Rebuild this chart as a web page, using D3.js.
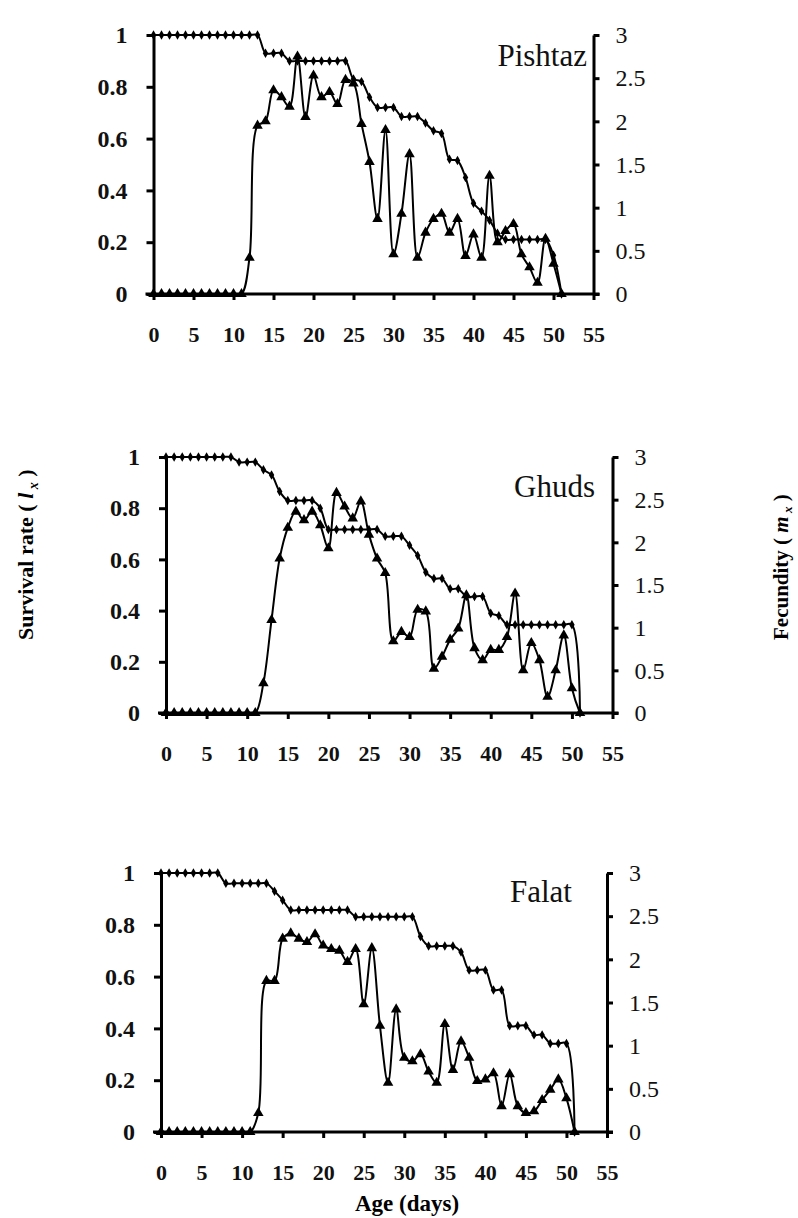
<!DOCTYPE html>
<html>
<head>
<meta charset="utf-8">
<script src="https://cdn.jsdelivr.net/npm/d3@7/dist/d3.min.js"></script>
<style>
  body { margin: 0; background: #fff; }
  .tick line { stroke: #000; stroke-width: 3px; }
  .domain { stroke: #000; stroke-width: 3px; }
</style>
</head>
<body>
<div id="chart"></div>
<script>
const width = 798;
const height = 1218;

// age in days, one value per day
const days = d3.range(0, 52);
const xTicks = d3.range(0, 60, 5);
const lxTicks = [0, 0.2, 0.4, 0.6, 0.8, 1];
const mxTicks = [0, 0.5, 1, 1.5, 2, 2.5, 3];

const varieties = ["Pishtaz", "Ghuds", "Falat"];

// survival rate lx
const pishtazLx = [1,1,1,1,1,1,1,1,1,1,1,1,1,1, 0.93,0.93,0.93,
  0.9,0.9,0.9,0.9,0.9,0.9,0.9,0.9, 0.83,0.82,0.76, 0.72,0.72,0.72,
  0.685,0.685,0.685, 0.66,0.63,0.62,0.52,0.515,0.45,0.35,0.32,0.285,0.235,
  0.21,0.21,0.21,0.21,0.21,0.21, 0.15,0];
const ghudsLx = [1,1,1,1,1,1,1,1,1, 0.98,0.98,0.98, 0.95,0.93,0.865,
  0.83,0.83,0.83,0.83, 0.8, 0.717,0.717,0.717,0.717,0.717,0.717,0.717,
  0.69,0.69,0.69, 0.655,0.615,0.55, 0.525,0.525, 0.485,0.485, 0.455,0.455,0.455,
  0.39,0.38, 0.345,0.345,0.345,0.345,0.345,0.345,0.345,0.345,0.345, 0];
const falatLx = [1,1,1,1,1,1,1,1, 0.96,0.96,0.96,0.96,0.96,0.96, 0.93,0.895,
  0.857,0.857,0.857,0.857,0.857,0.857,0.857,0.857,
  0.831,0.831,0.831,0.831,0.831,0.831,0.831,0.831,
  0.755, 0.718,0.718,0.718,0.718, 0.695, 0.625,0.625,0.625, 0.548,0.548,
  0.41,0.41,0.41, 0.375,0.375, 0.342,0.342,0.342, 0];

// fecundity mx
const pishtazMx = [0,0,0,0,0,0,0,0,0,0,0,0, 0.42,1.95,2.0,2.36,2.28,2.17,2.75,
  2.05,2.53,2.28,2.34,2.2,2.48,2.44,1.97,1.53,0.87,1.9,0.46,0.93,1.62,0.42,
  0.71,0.87,0.93,0.71,0.87,0.44,0.69,0.42,1.37,0.6,0.73,0.81,0.46,0.31,0.13,
  0.64,0.35,0];
const ghudsMx = [0,0,0,0,0,0,0,0,0,0,0,0, 0.35,1.09,1.81,2.17,2.36,2.26,2.36,
  2.2,1.93,2.58,2.42,2.28,2.48,2.09,1.81,1.64,0.84,0.95,0.89,1.21,1.19,0.52,
  0.66,0.86,0.99,1.38,0.76,0.62,0.74,0.74,0.89,1.4,0.5,0.82,0.62,0.19,0.5,
  0.91,0.29,0];
const falatMx = [0,0,0,0,0,0,0,0,0,0,0,0, 0.22,1.75,1.75,2.24,2.3,2.24,2.2,
  2.29,2.16,2.12,2.1,1.97,2.12,1.48,2.13,1.23,0.57,1.42,0.86,0.82,0.9,0.7,
  0.57,1.25,0.72,1.05,0.86,0.59,0.61,0.68,0.3,0.67,0.3,0.22,0.24,0.37,0.49,
  0.61,0.39,0];

const lxSeries = [pishtazLx, ghudsLx, falatLx];
const mxSeries = [pishtazMx, ghudsMx, falatMx];

// plot frames for the three stacked panels
const layout = [
  {left: 153.5, right: 593.5, top: 35, bottom: 294, titleX: 587, titleY: 66},
  {left: 166, right: 612.5, top: 457, bottom: 713, titleX: 595, titleY: 497},
  {left: 161, right: 607, top: 873, bottom: 1132, titleX: 572, titleY: 902}
];

const serif = "'Liberation Serif', 'Times New Roman', serif";

const svg = d3.select("#chart").append("svg")
    .attr("width", width)
    .attr("height", height)
    .style("display", "block");

svg.append("rect").attr("width", width).attr("height", height).attr("fill", "#fff");

varieties.forEach((name, i) => {
  const f = layout[i];
  const x = d3.scaleLinear().domain([0, 55]).range([f.left, f.right]);
  const yL = d3.scaleLinear().domain([0, 1]).range([f.bottom, f.top]);
  const yR = d3.scaleLinear().domain([0, 3]).range([f.bottom, f.top]);

  const g = svg.append("g");

  g.append("rect")
    .attr("x", f.left).attr("y", f.top)
    .attr("width", f.right - f.left).attr("height", f.bottom - f.top)
    .attr("fill", "#fff");

  // left axis: survival
  const axL = g.append("g")
      .attr("transform", `translate(${f.left},0)`)
      .call(d3.axisLeft(yL).tickValues(lxTicks).tickSize(7).tickSizeOuter(0)
        .tickPadding(19).tickFormat(d => String(d)));
  axL.selectAll("text")
      .attr("font-family", serif).attr("font-size", 24).attr("font-weight", "bold")
      .attr("fill", "#111");

  // right axis: fecundity
  const axR = g.append("g")
      .attr("transform", `translate(${f.right},0)`)
      .call(d3.axisRight(yR).tickValues(mxTicks).tickSize(6).tickSizeOuter(0)
        .tickPadding(16).tickFormat(d => String(d)));
  axR.selectAll("text")
      .attr("font-family", serif).attr("font-size", 24)
      .attr("fill", "#111");

  // bottom axis: age
  const axB = g.append("g")
      .attr("transform", `translate(0,${f.bottom})`)
      .call(d3.axisBottom(x).tickValues(xTicks).tickSize(6).tickSizeOuter(0)
        .tickPadding(26));
  axB.selectAll("text")
      .attr("font-family", serif).attr("font-size", 22).attr("font-weight", "bold")
      .attr("fill", "#111");
  axB.select(".domain").attr("d", `M${f.left - 8},0H${f.right + 6}`);

  const lx = lxSeries[i];
  const mx = mxSeries[i];

  const lineLx = d3.line()
      .x((d, j) => x(days[j]))
      .y(d => yL(d))
      .curve(d3.curveCatmullRom.alpha(0.5));
  const lineMx = d3.line()
      .x((d, j) => x(days[j]))
      .y(d => yR(d))
      .curve(d3.curveCatmullRom.alpha(0.5));

  g.append("path").datum(mx)
      .attr("d", lineMx)
      .attr("fill", "none").attr("stroke", "#000").attr("stroke-width", 2);
  g.append("path").datum(lx)
      .attr("d", lineLx)
      .attr("fill", "none").attr("stroke", "#000").attr("stroke-width", 2);

  const tri = d3.symbol().type(d3.symbolTriangle).size(48);
  const dia = d3.symbol().type(d3.symbolDiamond).size(26);

  g.append("g").selectAll("path")
    .data(mx)
    .join("path")
      .attr("d", tri)
      .attr("transform", (d, j) => `translate(${x(days[j])},${yR(d)})`)
      .attr("fill", "#000");

  g.append("g").selectAll("path")
    .data(lx)
    .join("path")
      .attr("d", dia)
      .attr("transform", (d, j) => `translate(${x(days[j])},${yL(d)})`)
      .attr("fill", "#000");

  g.append("text")
    .attr("x", f.titleX).attr("y", f.titleY)
    .attr("text-anchor", "end")
    .attr("font-family", serif).attr("font-size", 31)
    .attr("fill", "#111")
    .text(name);
});

// axis titles
const survival = svg.append("text")
    .attr("transform", "translate(33,640) rotate(-90)")
    .attr("font-family", serif).attr("font-size", 22).attr("font-weight", "bold");
survival.append("tspan").text("Survival rate ( ");
survival.append("tspan").attr("font-style", "italic").text("l");
survival.append("tspan").attr("font-style", "italic").attr("font-size", 14).attr("dy", 5).text(" x");
survival.append("tspan").attr("dy", -5).text(" )");

const fec = svg.append("text")
    .attr("transform", "translate(788,640) rotate(-90)")
    .attr("font-family", serif).attr("font-size", 21).attr("font-weight", "bold");
fec.append("tspan").text("Fecundity ( ");
fec.append("tspan").attr("font-style", "italic").text("m");
fec.append("tspan").attr("font-style", "italic").attr("font-size", 13).attr("dy", 4).text(" x");
fec.append("tspan").attr("dy", -4).text(" )");

svg.append("text")
    .attr("x", 407).attr("y", 1211)
    .attr("text-anchor", "middle")
    .attr("font-family", serif).attr("font-size", 23).attr("font-weight", "bold")
    .text("Age (days)");
</script>
</body>
</html>
